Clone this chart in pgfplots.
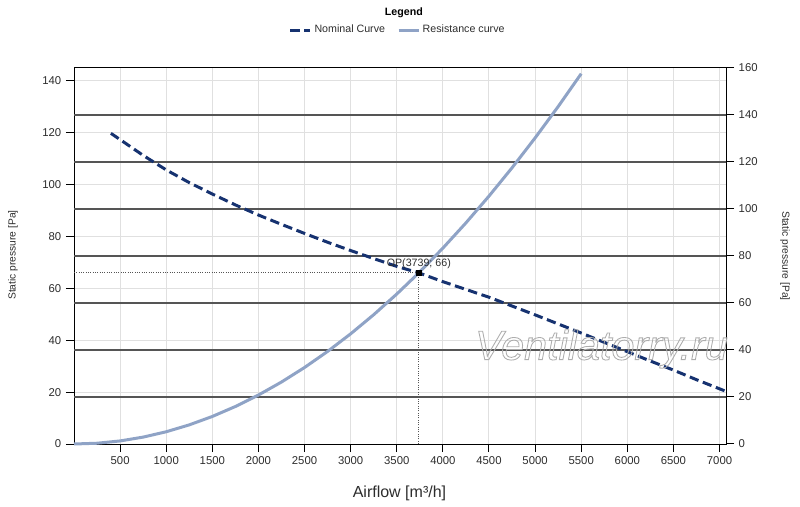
\documentclass[border=0pt]{standalone}
\usepackage{fontspec}
\setmainfont{Liberation Sans}
\usepackage{pgfplots}
\pgfplotsset{compat=1.18}
\definecolor{nomc}{RGB}{22,50,112}
\definecolor{resc}{RGB}{143,163,198}
\definecolor{lgrid}{RGB}{224,224,224}
\definecolor{dgrid}{RGB}{85,85,85}
\definecolor{txt}{RGB}{45,45,45}

\pgfplotstableread{
x y
400 119.8
500 117.4
750 111.3
1000 105.7
1250 100.8
1500 96.4
1750 92.2
2000 88.3
2250 84.7
2500 81.2
2750 77.8
3000 74.6
3250 71.5
3500 68.5
3739 66.0
4000 62.6
4250 59.6
4500 56.6
4750 53.2
5000 49.8
5250 46.3
5500 42.8
5750 39.2
6000 35.6
6250 32.0
6500 28.5
6750 24.8
7070 20.3
}\nominal

\pgfplotstableread{
x y
0 0
250 0.295
500 1.180
750 2.656
1000 4.721
1250 7.377
1500 10.622
1750 14.458
2000 18.884
2250 23.900
2500 29.506
2750 35.702
3000 42.489
3250 49.865
3500 57.832
3739 66.0
4000 75.536
4250 85.273
4500 95.600
4750 106.52
5000 118.03
5250 130.12
5500 142.81
}\resist

\begin{document}
\begin{tikzpicture}
\path[use as bounding box] (0,0) rectangle (600pt,380.25pt);
\begin{axis}[
  at={(55.5pt,47.25pt)}, anchor=south west,
  width=489pt, height=282pt, scale only axis,
  xmin=0, xmax=7070, ymin=0, ymax=145,
  xtick={500,1000,...,7000}, ytick={0,20,...,140},
  xtick pos=left, ytick pos=left,
  tick align=outside, major tick length=6pt,
  grid=major, major grid style={lgrid, line width=0.75pt},
  extra y ticks={18.125,36.25,54.375,72.5,90.625,108.75,126.875},
  extra y tick labels={},
  extra y tick style={major tick length=0pt, grid=major, major grid style={dgrid, line width=0.8pt}},
  axis line style={black, line width=0.75pt},
  tick style={black, line width=0.75pt},
  ticklabel style={font=\fontsize{8.5}{10}\selectfont, text=txt},
  /pgf/number format/assume math mode=true,
  /pgf/number format/1000 sep={},
  legend columns=2,
  legend style={at={(0.497,1.101)}, anchor=center, draw=none, fill=none,
    font=\fontsize{8}{9.6}\selectfont, text=txt, inner sep=0pt,
    /tikz/every even column/.append style={column sep=7pt}},
  legend image code/.code={\draw[#1] (0pt,0pt) -- (15pt,0pt);},
  clip=false,
]
\addplot[nomc, line width=2.25pt, dash pattern=on 7pt off 3.5pt] table[x=x,y=y] {\nominal};
\addlegendentry{Nominal Curve}
\addplot[resc, line width=2.25pt] table[x=x,y=y] {\resist};
\addlegendentry{Resistance curve}
\addplot[forget plot, dgrid, line width=0.75pt, densely dotted] coordinates {(0,66) (3739,66)};
\addplot[forget plot, dgrid, line width=0.75pt, densely dotted] coordinates {(3739,0) (3739,66)};
\addplot[forget plot, only marks, mark=square*, mark size=1.9pt, black] coordinates {(3739,66)};
\node[anchor=south, font=\fontsize{8}{9.6}\selectfont, text=txt, inner sep=0pt, yshift=3pt] at (axis cs:3739,66) {OP(3739; 66)};
\node[font=\bfseries\fontsize{8}{9.6}\selectfont, text=black] at (axis description cs:0.506,1.146) {Legend};
\end{axis}
\begin{axis}[
  at={(55.5pt,47.25pt)}, anchor=south west,
  width=489pt, height=282pt, scale only axis,
  xmin=0, xmax=7070, ymin=0, ymax=160,
  axis x line=none, axis y line*=right,
  ytick={0,20,...,160},
  tick align=outside, major tick length=6pt,
  axis line style={black, line width=0.75pt, -},
  tick style={black, line width=0.75pt},
  ticklabel style={font=\fontsize{8.5}{10}\selectfont, text=txt},
  /pgf/number format/assume math mode=true,
]
\addplot[draw=none, forget plot] coordinates {(0,0)};
\end{axis}
\node[rotate=90, font=\fontsize{7.7}{9}\selectfont, text=txt] at (9.75pt,189pt) {Static pressure [Pa]};
\node[rotate=-90, font=\fontsize{7.7}{9}\selectfont, text=txt] at (588.75pt,188.25pt) {Static pressure [Pa]};
\node[anchor=base, font=\fontsize{12}{14}\selectfont, text=txt] at (299.6pt,6.75pt) {Airflow [m³/h]};
\node[font=\fontsize{31}{31}\selectfont\itshape] at (451.1pt,118.5pt)
  {\special{pdf:literal direct 0.68 0.68 0.68 RG 0.65 w 1 Tr}Ventilatorry.ru\special{pdf:literal direct 0 Tr 0 0 0 RG 0.3985 w}};
\end{tikzpicture}
\end{document}
